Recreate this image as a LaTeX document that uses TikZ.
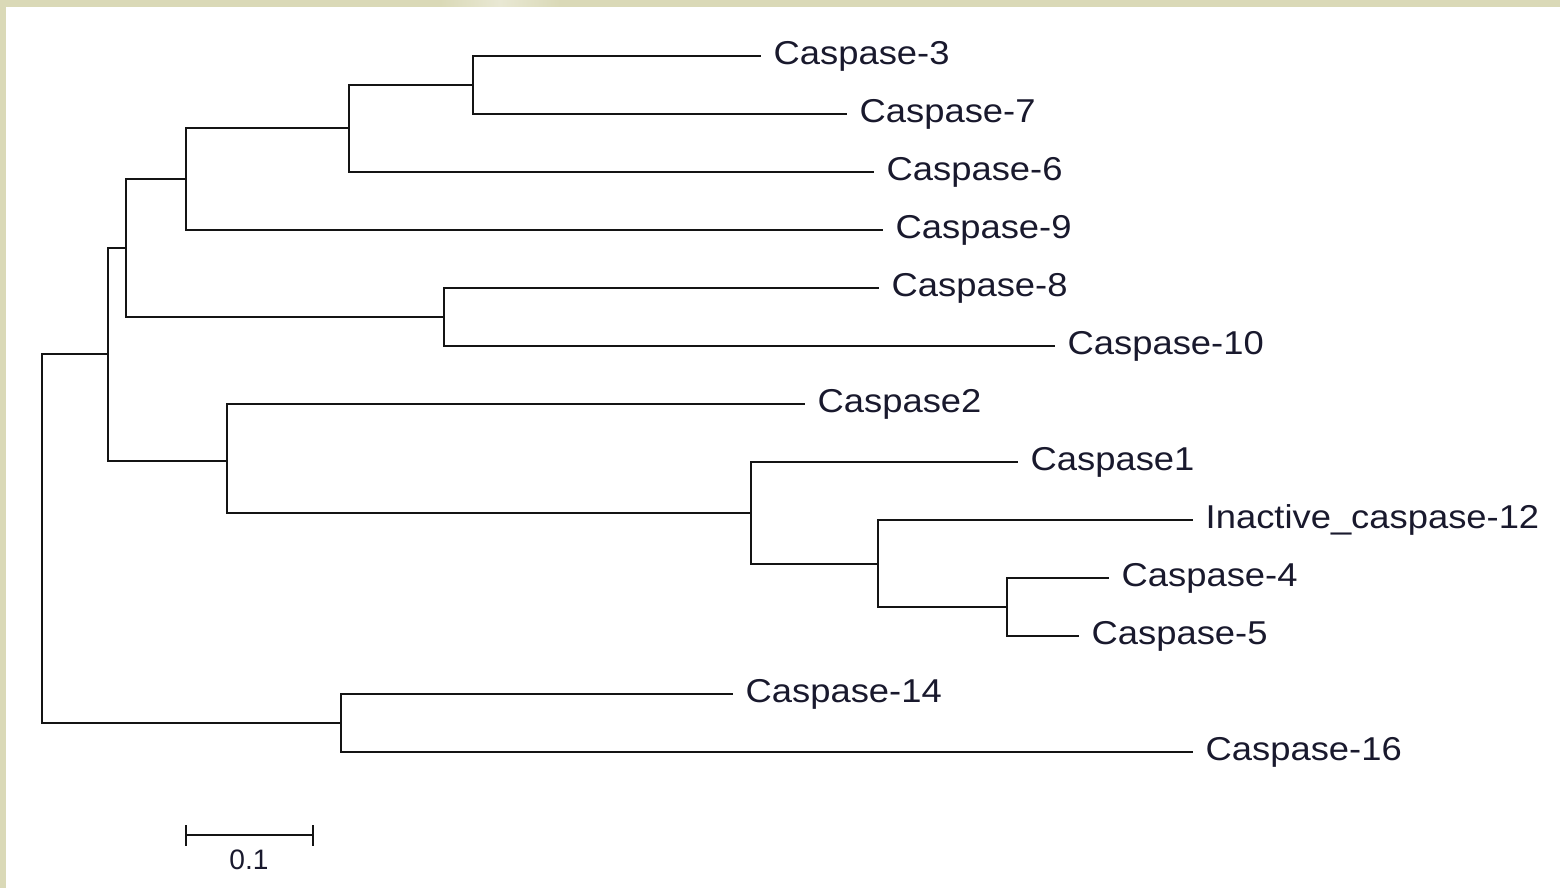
\documentclass[tikz,border=0pt]{standalone}
\usepackage{fontspec}
\setmainfont{Liberation Sans}
\newfontfamily\labfont[FakeStretch=1.1]{Liberation Sans}
\definecolor{beige}{RGB}{218,217,183}
\definecolor{txt}{RGB}{25,25,45}
\definecolor{branch}{RGB}{20,20,20}
\begin{document}
\begin{tikzpicture}[x=0.01cm,y=-0.01cm,
  br/.style={draw=branch,line width=0.8pt,line cap=rect},
  leaf/.style={anchor=west,inner xsep=0.13cm,inner ysep=0pt,text=txt,font=\labfont\fontsize{9.4}{11}\selectfont},
  scalelab/.style={text=txt,font=\fontsize{8}{10}\selectfont,inner sep=0pt}]
\useasboundingbox (0,0) rectangle (1560,888);
\fill[white] (0,0) rectangle (1560,888);
\fill[beige] (0,0) rectangle (1560,7);
\fill[beige] (0,0) rectangle (6,888);
\shade[left color=beige,right color=beige,middle color=beige!60!white] (440,0) rectangle (560,7);

% leaves
\node[leaf] (c3) at (760,56) {Caspase-3};
\node[leaf] (c7) at (846,114) {Caspase-7};
\node[leaf] (c6) at (873,172) {Caspase-6};
\node[leaf] (c9) at (882,230) {Caspase-9};
\node[leaf] (c8) at (878,288) {Caspase-8};
\node[leaf] (c10) at (1054,346) {Caspase-10};
\node[leaf] (c2) at (804,404) {Caspase2};
\node[leaf] (c1) at (1017,462) {Caspase1};
\node[leaf] (c12) at (1192,520) {Inactive\_caspase-12};
\node[leaf] (c4) at (1108,578) {Caspase-4};
\node[leaf] (c5) at (1078,636) {Caspase-5};
\node[leaf] (c14) at (732,694) {Caspase-14};
\node[leaf] (c16) at (1192,752) {Caspase-16};

% internal nodes
\coordinate (n37) at (473,85);
\coordinate (n376) at (349,128);
\coordinate (n3769) at (186,179);
\coordinate (n810) at (444,317);
\coordinate (nA) at (126,248);
\coordinate (n45) at (1007,607);
\coordinate (n1245) at (878,564);
\coordinate (n1g) at (751,513);
\coordinate (n2g) at (227,461);
\coordinate (nB) at (108,354);
\coordinate (n1416) at (341,723);
\coordinate (root) at (42,538);

% branches
\draw[br] (n37) |- (c3.west);
\draw[br] (n37) |- (c7.west);
\draw[br] (n376) |- (n37);
\draw[br] (n376) |- (c6.west);
\draw[br] (n3769) |- (n376);
\draw[br] (n3769) |- (c9.west);
\draw[br] (n810) |- (c8.west);
\draw[br] (n810) |- (c10.west);
\draw[br] (nA) |- (n3769);
\draw[br] (nA) |- (n810);
\draw[br] (n45) |- (c4.west);
\draw[br] (n45) |- (c5.west);
\draw[br] (n1245) |- (c12.west);
\draw[br] (n1245) |- (n45);
\draw[br] (n1g) |- (c1.west);
\draw[br] (n1g) |- (n1245);
\draw[br] (n2g) |- (c2.west);
\draw[br] (n2g) |- (n1g);
\draw[br] (nB) |- (nA);
\draw[br] (nB) |- (n2g);
\draw[br] (n1416) |- (c14.west);
\draw[br] (n1416) |- (c16.west);
\draw[br] (root) |- (nB);
\draw[br] (root) |- (n1416);

% scale bar
\coordinate (sb1) at (186,835);
\coordinate (sb2) at (313,835);
\draw[br] (sb1) -- (sb2);
\draw[br] ([yshift=0.09cm]sb1) -- ([yshift=-0.1cm]sb1);
\draw[br] ([yshift=0.09cm]sb2) -- ([yshift=-0.1cm]sb2);
\node[scalelab] (sblab) at (249,860) {0.1};
\end{tikzpicture}
\end{document}
